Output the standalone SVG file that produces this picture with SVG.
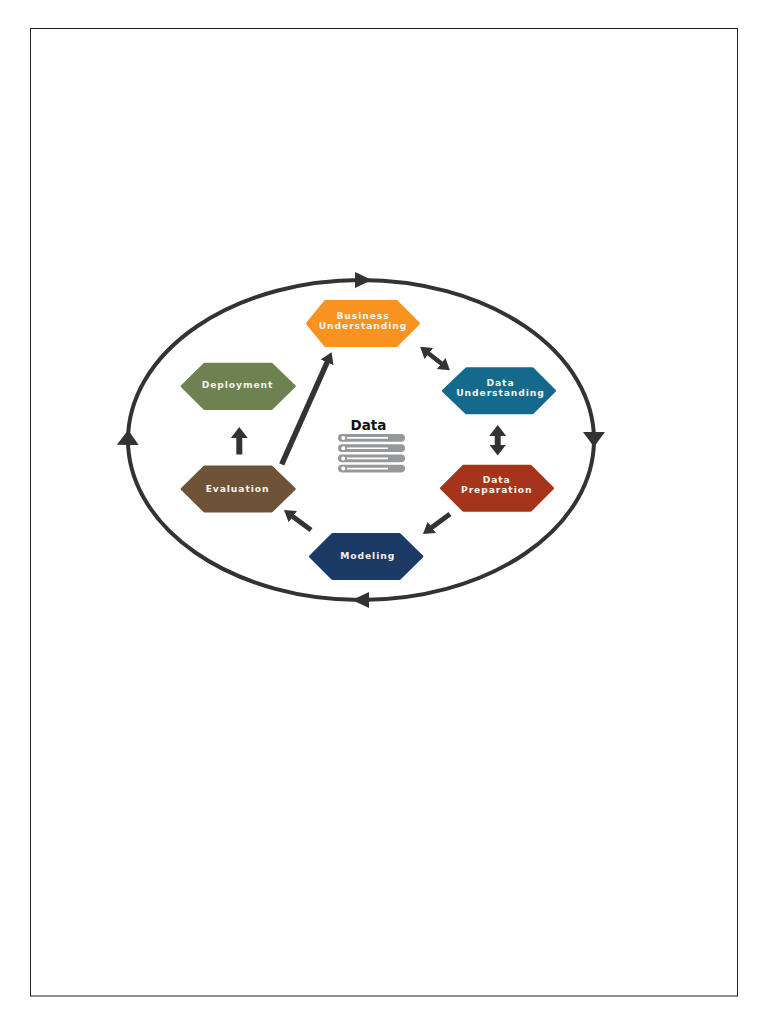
<svg xmlns="http://www.w3.org/2000/svg" width="768" height="1024" viewBox="0 0 768 1024">
<style>
.hex{stroke-linejoin:round;stroke-width:3}
.lbl{font-family:"DejaVu Sans","Liberation Sans",sans-serif;font-weight:700;font-size:9.200px;letter-spacing:.9px;fill:#f4f1ea;text-anchor:middle}
.con{stroke:#333335;fill:none}
.bar{fill:#97989b}
.ln{stroke:#fff;stroke-width:1.6}
.dot{fill:#fff}
</style>
<defs>
<marker id="cycle-h" markerUnits="userSpaceOnUse" markerWidth="20" markerHeight="20" refX="8.500" refY="10" orient="auto"><path d="M0,2L17,10L0,18Z" fill="#333335"/></marker>
<marker id="cycle-v" markerUnits="userSpaceOnUse" markerWidth="24" markerHeight="24" refX="7.500" refY="12" orient="auto"><path d="M0,1L15,12L0,23Z" fill="#333335"/></marker>
<marker id="h" markerUnits="userSpaceOnUse" markerWidth="18" markerHeight="18" refX="1" refY="9" orient="auto-start-reverse"><path d="M0,0.500L11,9L0,17.500Z" fill="#333335"/></marker>
<marker id="hs" markerUnits="userSpaceOnUse" markerWidth="16" markerHeight="16" refX="1" refY="8" orient="auto-start-reverse"><path d="M0,1L11,8L0,15Z" fill="#333335"/></marker>
</defs>
<rect id="frame" x="30.500" y="28.500" width="707" height="967.500" fill="#fff" stroke="#222" stroke-width="1"/>
<g id="connectors">
<path id="cycle-top" class="con" stroke-width="4" d="M128,440A233,160 0 0 1 363.500,280" marker-end="url(#cycle-h)"/>
<path id="cycle-right" class="con" stroke-width="4" d="M361,280A233,160 0 0 1 594,439.500" marker-end="url(#cycle-v)"/>
<path id="cycle-bottom" class="con" stroke-width="4" d="M594,440A233,160 0 0 1 360.500,600" marker-end="url(#cycle-h)"/>
<path id="cycle-left" class="con" stroke-width="4" d="M361,600A233,160 0 0 1 128,437.500" marker-end="url(#cycle-v)"/>
<path id="a-business-data" class="con" stroke-width="4.500" d="M428,353L442,364" marker-start="url(#hs)" marker-end="url(#hs)"/>
<path id="a-data-prep" class="con" stroke-width="6" d="M497.700,435L497.700,445.500" marker-start="url(#h)" marker-end="url(#h)"/>
<path id="a-prep-model" class="con" stroke-width="5" d="M450,514L431,528" marker-end="url(#hs)"/>
<path id="a-model-eval" class="con" stroke-width="5" d="M311,530L292,516" marker-end="url(#hs)"/>
<path id="a-eval-deploy" class="con" stroke-width="6" d="M239.300,454.500L239.300,437" marker-end="url(#h)"/>
<path id="a-eval-business" class="con" stroke-width="5.500" d="M281.700,464.300L327.500,361.500" marker-end="url(#hs)"/>
</g>
<g id="business">
<polygon class="hex" fill="#f7931e" stroke="#f7931e" points="307.500,323.500 325.500,301.500 396.500,301.500 418.500,323.500 396.500,345.500 325.500,345.500"/>
<text class="lbl" x="363" y="318.800">Business</text><text class="lbl" x="363" y="329.200">Understanding</text>
</g>
<g id="data-understanding">
<polygon class="hex" fill="#156a8c" stroke="#156a8c" points="443.500,390.800 466.500,368.800 532.500,368.800 554.500,390.800 532.500,412.800 466.500,412.800"/>
<text class="lbl" x="500.500" y="385.500">Data</text><text class="lbl" x="500.500" y="395.800">Understanding</text>
</g>
<g id="data-preparation">
<polygon class="hex" fill="#a5351a" stroke="#a5351a" points="441.500,488.300 463.500,466.300 530.500,466.300 552.500,488.300 530.500,510.300 463.500,510.300"/>
<text class="lbl" x="496.700" y="482.500">Data</text><text class="lbl" x="496.700" y="492.800">Preparation</text>
</g>
<g id="modeling">
<polygon class="hex" fill="#1c3a66" stroke="#1c3a66" points="310.500,556.500 332.500,534.500 399.500,534.500 421.800,556.500 399.500,578.500 332.500,578.500"/>
<text class="lbl" x="367.700" y="559">Modeling</text>
</g>
<g id="evaluation">
<polygon class="hex" fill="#6f5338" stroke="#6f5338" points="182.200,489 204.500,467 271.500,467 294.200,489 271.500,511 204.500,511"/>
<text class="lbl" x="237.500" y="491.500">Evaluation</text>
</g>
<g id="deployment">
<polygon class="hex" fill="#6d8250" stroke="#6d8250" points="182.200,386.300 204.500,364.300 271.500,364.300 294.200,386.300 271.500,408.500 204.500,408.500"/>
<text class="lbl" x="237.500" y="388.300">Deployment</text>
</g>
<g id="data-store">
<text x="368.500" y="430" font-family="'DejaVu Sans','Liberation Sans',sans-serif" font-weight="700" font-size="13.500" fill="#111" text-anchor="middle">Data</text>
<rect class="bar" x="338" y="434" width="67" height="7.700" rx="3.800"/>
<rect class="bar" x="338" y="444.300" width="67" height="7.700" rx="3.800"/>
<rect class="bar" x="338" y="454.500" width="67" height="7.700" rx="3.800"/>
<rect class="bar" x="338" y="464.700" width="67" height="7.700" rx="3.800"/>
<path class="ln" d="M347,437.900H388M347,448.200H388M347,458.400H388M347,468.600H388"/>
<circle class="dot" cx="343.300" cy="437.900" r="2"/><circle class="dot" cx="343.300" cy="448.200" r="2"/><circle class="dot" cx="343.300" cy="458.400" r="2"/><circle class="dot" cx="343.300" cy="468.600" r="2"/>
</g>
</svg>
